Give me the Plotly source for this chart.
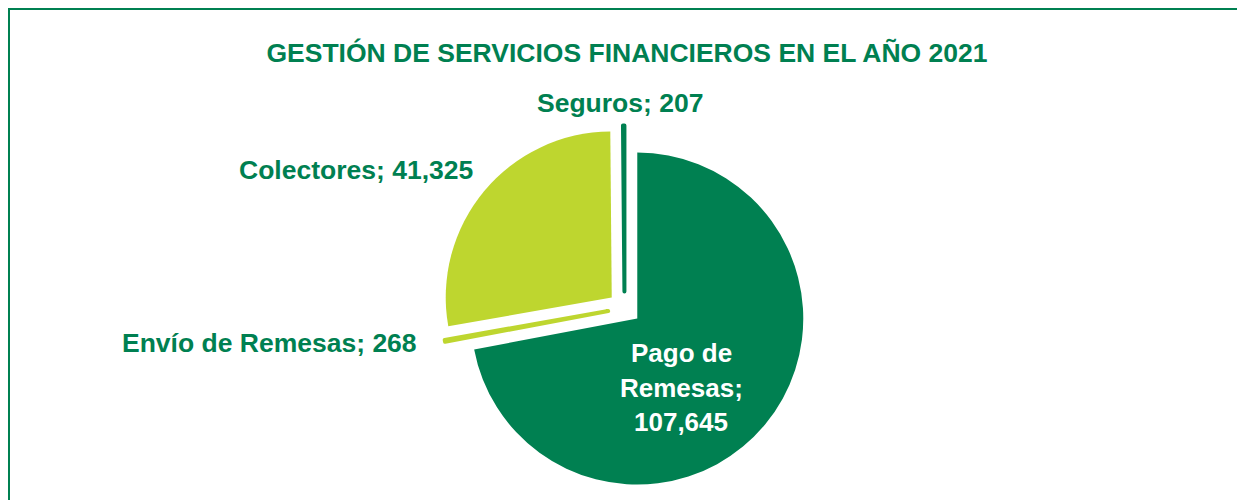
import plotly.graph_objects as go

# Data
categories = ["Pago de Remesas", "Envío de Remesas", "Colectores", "Seguros"]
values = [107645, 268, 41325, 207]
colors = ["#008051", "#BED62F", "#BED62F", "#008051"]
title_text = "GESTIÓN DE SERVICIOS FINANCIEROS EN EL AÑO 2021"

W, H = 1245, 500
OFF = 8  # page body margin offset
GREEN = "#008051"
FONT = "Liberation Sans, Arial, sans-serif"

fig = go.Figure(go.Pie(
    labels=categories,
    values=values,
    sort=False,
    direction="clockwise",
    rotation=0,
    pull=[0.1, 0.1, 0.1, 0.1],
    marker=dict(colors=colors, line=dict(width=[0, 4, 0, 4], color=colors)),
    textinfo="none",
    showlegend=False,
    domain=dict(x=[0.34851, 0.64185], y=[0.0348, 0.7652]),
))

def px(x, y):
    return (x - OFF) / W, 1 - (y - OFF) / H

annotations = []
label_pos = {
    "Seguros": (620, 103),
    "Colectores": (356, 170),
    "Envío de Remesas": (269.5, 343),
}
for cat, val in zip(categories, values):
    if cat in label_pos:
        x, y = px(*label_pos[cat])
        annotations.append(dict(
            x=x, y=y, xref="paper", yref="paper", xanchor="center", yanchor="middle",
            text=f"{cat}; {val:,}", showarrow=False,
            font=dict(family=FONT, size=26.5, color=GREEN, weight="bold"),
        ))

pago_val = values[categories.index("Pago de Remesas")]
pago_lines = ["Pago de", "Remesas;", f"{pago_val:,}"]
for i, line in enumerate(pago_lines):
    x, y = px(681, 353 + i * 34.5)
    annotations.append(dict(
        x=x, y=y, xref="paper", yref="paper", xanchor="center", yanchor="middle",
        text=line, showarrow=False,
        font=dict(family=FONT, size=26, color="white", weight="bold"),
    ))

tx, ty = px(627, 53)
fig.update_layout(
    width=W, height=H,
    margin=dict(l=0, r=0, t=0, b=0),
    paper_bgcolor="white",
    plot_bgcolor="white",
    title=dict(text=title_text, x=tx, y=ty, xanchor="center", yanchor="middle",
               xref="paper", yref="container",
               font=dict(family=FONT, size=26.5, color=GREEN, weight="bold")),
    annotations=annotations,
    shapes=[dict(type="rect", xref="paper", yref="paper",
                 x0=0.5 / W, x1=1.05, y0=-0.05, y1=1 - 0.5 / H,
                 line=dict(color=GREEN, width=3), fillcolor="rgba(0,0,0,0)")],
)

fig.write_html("out.html")
